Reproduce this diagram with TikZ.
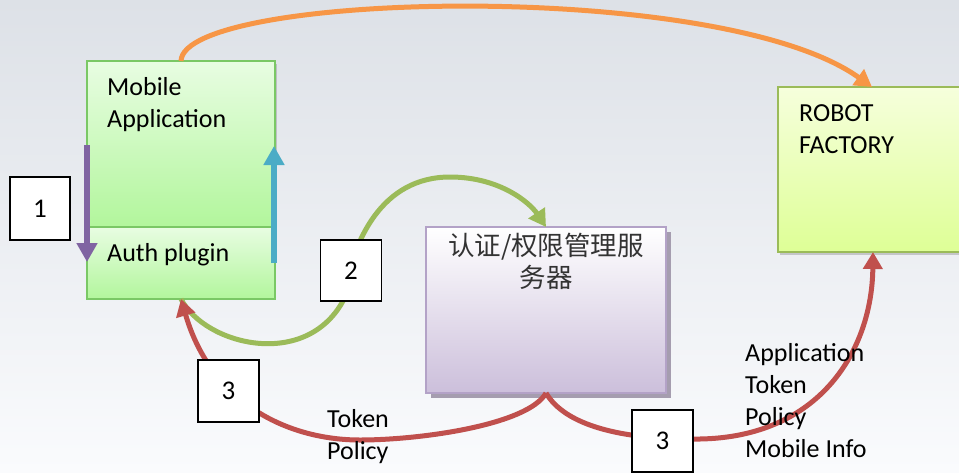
\documentclass[tikz,border=0pt]{standalone}
\usepackage{fontspec}
\setmainfont{Carlito}
\newfontfamily\cjk{Noto Sans CJK SC}
\usetikzlibrary{arrows.meta,shadows,calc}
\definecolor{bgtop}{HTML}{DDE1E7}
\definecolor{bgbot}{HTML}{FAFBFD}
\definecolor{mgreenT}{HTML}{E8FDE2}
\definecolor{mgreenB}{HTML}{B2F69C}
\definecolor{mborder}{HTML}{7AC865}
\definecolor{rfT}{HTML}{F6FFDC}
\definecolor{rfB}{HTML}{DEFF96}
\definecolor{rfborder}{HTML}{9BBB59}
\definecolor{svB}{HTML}{CCBFDB}
\definecolor{svborder}{HTML}{B3A2C7}
\definecolor{svshadow}{HTML}{A59DAF}
\definecolor{cOrange}{HTML}{F79646}
\definecolor{cGreen}{HTML}{9BBB59}
\definecolor{cRed}{HTML}{C0504D}
\definecolor{cPurple}{HTML}{8064A2}
\definecolor{cBlue}{HTML}{4BACC6}
\definecolor{cjkgrey}{HTML}{333333}
\tikzset{
  box/.style={rectangle, inner sep=0pt, outer sep=0pt},
  softshadow/.style={drop shadow={shadow xshift=2pt, shadow yshift=-3pt, opacity=0.3, fill=black!60}},
  mobilebox/.style={box, draw=mborder, line width=1.5pt, top color=mgreenT, bottom color=mgreenB, minimum width=188pt},
  numbox/.style={box, draw=black, line width=1.2pt, fill=white, font=\fontsize{27}{30}\selectfont},
  conn/.style={line width=5pt, -{Triangle[width=19pt,length=17pt]}},
  vconn/.style={line width=6pt, -{Triangle[width=20pt,length=19pt]}},
  lbl/.style={inner sep=0pt, align=left, anchor=base west, font=\fontsize{26}{32}\selectfont},
}
\begin{document}
\begin{tikzpicture}[x=1pt,y=-1pt]
\clip (0,0) rectangle (959,472);
\node[box, anchor=north west, minimum width=959pt, minimum height=472pt, top color=bgtop, bottom color=bgbot] (bg) at (0,0) {};

% main boxes
\node[mobilebox, softshadow, minimum height=166pt] (mtop) at (181,144) {};
\node[mobilebox, minimum height=72pt] (mbot) at (181,263) {};
\node[box, draw=svborder, line width=2pt, top color=white, bottom color=svB, minimum width=240pt, minimum height=166pt,
      drop shadow={shadow xshift=5pt, shadow yshift=-5pt, opacity=1, fill=svshadow}] (sv) at (546,310) {};
\node[box, draw=rfborder, line width=2pt, top color=rfT, bottom color=rfB, softshadow, minimum width=202pt, minimum height=165pt] (rf) at (879,169.5) {};

% texts in boxes (base anchor = baseline of the last line)
\node[lbl] (tmob) at (107,127) {Mobile\\Application};
\node[lbl] (tauth) at (107,261) {Auth plugin};
\node[lbl] (trf) at (799,153) {ROBOT\\FACTORY};
\node[inner sep=0pt, align=center, anchor=base, text=cjkgrey, font=\cjk\fontsize{26.5}{32}\selectfont] (tsv) at (546,287) {认证/权限管理服\\务器};

% connectors
\draw[conn, cOrange] (mtop.north) .. controls (183,-8) and (720,-22) .. ($(rf.north west)+(94,0)$);
\draw[conn, cGreen] (mbot.south) .. controls (205,345) and (305,370) .. (343,301)
   .. controls (352,240) and (382,177) .. (450,177)
   .. controls (500,177) and (530,203) .. (sv.north);
\draw[conn, cRed] (sv.south) .. controls (528,425) and (420,440) .. (360,440)
   .. controls (290,440) and (212,405) .. (mbot.south);
\draw[conn, cRed] (sv.south) .. controls (565,425) and (620,440) .. (700,439)
   .. controls (820,437) and (872,350) .. ($(rf.south west)+(95,0)$);

% vertical arrows on the mobile box
\draw[vconn, cPurple] ($(mtop.north west)+(0,84)$) -- ($(mbot.south west)+(0,-37)$);
\draw[vconn, cBlue] ($(mbot.south east)+(-1,-36)$) -- ($(mtop.north east)+(-1,85)$);

% number boxes
\node[numbox, minimum width=60pt, minimum height=63pt] (n1) at (40,208.5) {1};
\node[numbox, minimum width=61pt, minimum height=61pt] (n2) at (351,270.5) {2};
\node[numbox, minimum width=61pt, minimum height=62pt] (n3a) at (228.5,391) {3};
\node[numbox, minimum width=61pt, minimum height=62pt] (n3b) at (662.5,441) {3};

% labels
\node[lbl] (ltok) at (327,459) {Token\\Policy};
\node[lbl] (lapp) at (745,457) {Application\\Token\\Policy\\Mobile Info};
\end{tikzpicture}
\end{document}
